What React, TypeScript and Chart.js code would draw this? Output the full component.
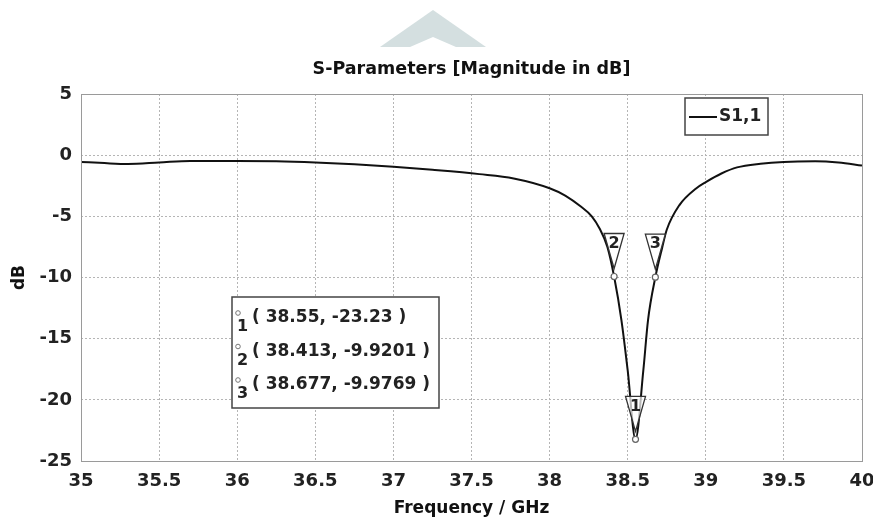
import React, { useEffect, useRef } from "react";
import { Chart, registerables } from "chart.js";

Chart.register(...registerables);

// ---- data ----
const freqGHz = [35, 35.15, 35.3, 35.5, 35.7, 36, 36.25, 36.5, 36.75, 37, 37.25, 37.55, 37.77, 38, 38.1, 38.2, 38.27, 38.32, 38.37, 38.413, 38.46, 38.5, 38.55, 38.6, 38.63, 38.677, 38.72, 38.75, 38.83, 38.94, 39, 39.1, 39.2, 39.35, 39.5, 39.7, 39.85, 40];
const s11dB = [-0.55, -0.65, -0.72, -0.6, -0.47, -0.47, -0.5, -0.6, -0.75, -0.95, -1.2, -1.55, -1.9, -2.7, -3.3, -4.2, -5.0, -6.0, -7.5, -9.92, -13.5, -17.6, -23.23, -17.6, -13.5, -9.98, -7.6, -6.1, -4.1, -2.7, -2.2, -1.5, -1.0, -0.7, -0.55, -0.5, -0.6, -0.85];
const seriesLabel = "S1,1";
const markerIds = ["1", "2", "3"];
const markerFreq = [38.55, 38.413, 38.677];
const markerVal = [-23.23, -9.9201, -9.9769];
const titleText = "S-Parameters [Magnitude in dB]";
const xTitle = "Frequency / GHz";
const yTitle = "dB";

const FONT = "'DejaVu Sans', 'Liberation Sans', sans-serif";

const decorPlugin = {
  id: "decor",
  beforeDraw(chart: any) {
    const ctx = chart.ctx;
    ctx.save();
    ctx.fillStyle = "#ffffff";
    ctx.fillRect(0, 0, chart.width, chart.height);
    // faint watermark chevron
    ctx.fillStyle = "#d4dfe0";
    ctx.beginPath();
    ctx.moveTo(433, 10);
    ctx.lineTo(380, 47);
    ctx.lineTo(486, 47);
    ctx.closePath();
    ctx.fill();
    ctx.fillStyle = "#ffffff";
    ctx.beginPath();
    ctx.moveTo(433, 37);
    ctx.lineTo(410, 47);
    ctx.lineTo(456, 47);
    ctx.closePath();
    ctx.fill();
    ctx.restore();
  },
  afterDatasetsDraw(chart: any) {
    const ctx = chart.ctx;
    const ca = chart.chartArea;
    const xs = chart.scales.x;
    const ys = chart.scales.y;
    ctx.save();
    // plot frame
    ctx.strokeStyle = "#9a9a9a";
    ctx.lineWidth = 1;
    ctx.strokeRect(Math.round(ca.left) + 0.5, Math.round(ca.top) + 0.5, Math.round(ca.right - ca.left), Math.round(ca.bottom - ca.top));

    // markers
    markerIds.forEach((id, i) => {
      const px = xs.getPixelForValue(markerFreq[i]);
      const py = ys.getPixelForValue(markerVal[i]);
      const top = py - 43;
      const tip = py - 8;
      ctx.beginPath();
      ctx.moveTo(px - 10, top);
      ctx.lineTo(px + 10, top);
      ctx.lineTo(px, tip);
      ctx.closePath();
      ctx.fillStyle = "rgba(255,255,255,0.7)";
      ctx.fill();
      ctx.strokeStyle = "#333";
      ctx.lineWidth = 1.3;
      ctx.stroke();
      ctx.fillStyle = "#222";
      ctx.font = `bold 16px ${FONT}`;
      ctx.textAlign = "center";
      ctx.textBaseline = "middle";
      ctx.fillText(id, px, top + 10);
      ctx.beginPath();
      ctx.arc(px, py, 3, 0, Math.PI * 2);
      ctx.fillStyle = "#fff";
      ctx.fill();
      ctx.strokeStyle = "#666";
      ctx.lineWidth = 1.2;
      ctx.stroke();
    });

    // legend box
    const lx = ca.right - 177;
    const ly = ca.top + 4;
    ctx.fillStyle = "#fff";
    ctx.fillRect(lx, ly, 83, 37);
    ctx.strokeStyle = "#444";
    ctx.lineWidth = 1.5;
    ctx.strokeRect(lx, ly, 83, 37);
    ctx.beginPath();
    ctx.moveTo(lx + 4, ly + 19);
    ctx.lineTo(lx + 32, ly + 19);
    ctx.strokeStyle = "#111";
    ctx.lineWidth = 2;
    ctx.stroke();
    ctx.fillStyle = "#222";
    ctx.font = `bold 17px ${FONT}`;
    ctx.textAlign = "left";
    ctx.textBaseline = "middle";
    ctx.fillText(seriesLabel, lx + 34, ly + 19);

    // marker info box
    const bx = ca.left + 151;
    const by = ca.top + 203;
    const bw = 207;
    const bh = 111;
    ctx.fillStyle = "#fff";
    ctx.fillRect(bx, by, bw, bh);
    ctx.strokeStyle = "#444";
    ctx.lineWidth = 1.5;
    ctx.strokeRect(bx, by, bw, bh);
    markerIds.forEach((id, i) => {
      const cy = by + 21 + i * 33.5;
      ctx.beginPath();
      ctx.arc(bx + 6, cy - 5, 2.3, 0, Math.PI * 2);
      ctx.strokeStyle = "#777";
      ctx.lineWidth = 1;
      ctx.stroke();
      ctx.fillStyle = "#222";
      ctx.font = `bold 16px ${FONT}`;
      ctx.textAlign = "left";
      ctx.textBaseline = "middle";
      ctx.fillText(id, bx + 5, cy + 9);
      ctx.font = `bold 17px ${FONT}`;
      ctx.fillText(`( ${markerFreq[i]}, ${markerVal[i]} )`, bx + 20, cy);
    });
    ctx.restore();
  },
};

export default function App() {
  const ref = useRef<HTMLCanvasElement | null>(null);
  useEffect(() => {
    document.body.style.margin = "0";
    const canvas = ref.current;
    if (!canvas) return;
    const chart = new Chart(canvas, {
      type: "line",
      data: {
        datasets: [
          {
            label: seriesLabel,
            data: freqGHz.map((f, i) => ({ x: f, y: s11dB[i] })),
            borderColor: "#111",
            borderWidth: 2,
            pointRadius: 0,
            cubicInterpolationMode: "monotone",
            fill: false,
          },
        ],
      },
      options: {
        responsive: false,
        animation: false,
        devicePixelRatio: 1,
        layout: { padding: { left: 0, right: 11, top: 0, bottom: 0 } },
        plugins: {
          legend: { display: false },
          tooltip: { enabled: false },
          title: {
            display: true,
            text: titleText,
            fullSize: false,
            color: "#111",
            font: { family: FONT, size: 17.5, weight: "bold", lineHeight: 1.2 },
            padding: { top: 59, bottom: 14 },
          },
        },
        scales: {
          x: {
            type: "linear",
            min: 35,
            max: 40,
            afterFit: (s: any) => { s.height = 66; s.paddingLeft = 0; s.paddingRight = 0; },
            ticks: {
              stepSize: 0.5,
              color: "#222",
              padding: 10,
              font: { family: FONT, size: 18, weight: "bold" },
              maxRotation: 0,
              autoSkip: false,
              callback: (v: any) => String(Number(v)),
            },
            grid: { color: "#b5b5b5", drawTicks: false, lineWidth: 1 },
            border: { display: false, dash: [2, 2] },
            title: {
              display: true,
              text: xTitle,
              color: "#111",
              font: { family: FONT, size: 17, weight: "bold", lineHeight: 1.2 },
              padding: { top: 0, bottom: 8 },
            },
          },
          y: {
            type: "linear",
            min: -25,
            max: 5,
            afterFit: (s: any) => { s.width = 81; },
            ticks: {
              stepSize: 5,
              color: "#222",
              padding: 9,
              font: { family: FONT, size: 18, weight: "bold" },
            },
            grid: { color: "#b5b5b5", drawTicks: false, lineWidth: 1 },
            border: { display: false, dash: [2, 2] },
            title: {
              display: true,
              text: yTitle,
              color: "#111",
              font: { family: FONT, size: 17, weight: "bold", lineHeight: 1.2 },
              padding: { top: 9, bottom: 0 },
            },
          },
        },
      },
      plugins: [decorPlugin],
    } as any);
    return () => chart.destroy();
  }, []);
  return <canvas ref={ref} width={873} height={527} style={{ display: "block", width: 873, height: 527 }} />;
}
